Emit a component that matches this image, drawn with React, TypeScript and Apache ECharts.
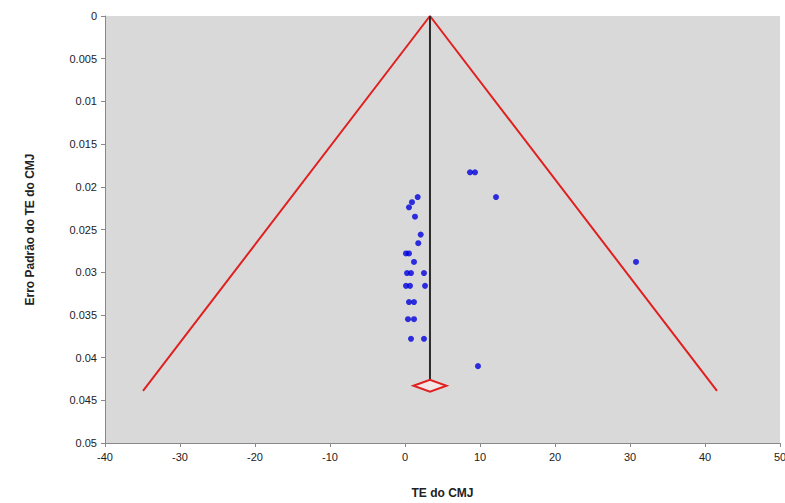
import React, { useEffect, useRef } from "react";
import * as echarts from "echarts";

// Study estimates (TE do CMJ) and their standard errors
const studyTE = [8.67, 9.33, 12.13, 30.8, 9.73, 1.69, 0.93, 0.53, 1.33, 2.09, 1.77, 0.13, 0.53, 1.2, 0.27, 0.8, 2.53, 0.13, 0.67, 2.67, 0.53, 1.2, 0.4, 1.2, 0.8, 2.53];
const studySE = [0.0183, 0.0183, 0.0212, 0.0288, 0.041, 0.0212, 0.0218, 0.0224, 0.0235, 0.0256, 0.0266, 0.0278, 0.0278, 0.0288, 0.0301, 0.0301, 0.0301, 0.0316, 0.0316, 0.0316, 0.0335, 0.0335, 0.0355, 0.0355, 0.0378, 0.0378];

// Funnel (pseudo confidence limits)
const funnelX = [-34.93, 3.33, 41.6];
const funnelY = [0.0439, 0, 0.0439];

// Pooled estimate line and diamond
const pooledTE = 3.33;
const pooledLineEnd = 0.0426;
const diamondSE = 0.0433;
const diamondHalfWidth = 2.2;
const diamondHalfHeight = 0.0007;

// Axes
const xMin = -40;
const xMax = 50;
const xStep = 10;
const yMin = 0;
const yMax = 0.05;
const yStep = 0.005;

export default function App() {
  const ref = useRef<HTMLDivElement>(null);
  useEffect(() => {
    if (!ref.current) return;
    const chart = echarts.init(ref.current, null, { renderer: "svg" });
    const font = "'Liberation Sans', Arial, sans-serif";
    const points = studyTE.map((x, i) => [x, studySE[i]]);
    const funnel = funnelX.map((x, i) => [x, funnelY[i]]);
    chart.setOption({
      animation: false,
      backgroundColor: "#ffffff",
      grid: {
        left: 105,
        right: 5,
        top: 16,
        bottom: 60,
        show: true,
        backgroundColor: "#d9d9d9",
        borderWidth: 0,
        outerBoundsMode: "none",
        containLabel: false,
      },
      xAxis: {
        type: "value",
        min: xMin,
        max: xMax,
        interval: xStep,
        name: "TE do CMJ",
        nameLocation: "middle",
        nameGap: 44,
        nameTextStyle: { fontFamily: font, fontSize: 12, fontWeight: "bold", color: "#222" },
        axisLine: { show: true, onZero: false, lineStyle: { color: "#888", width: 1 } },
        axisTick: { show: true, length: 4, lineStyle: { color: "#888" } },
        axisLabel: { fontFamily: font, fontSize: 11, color: "#222", margin: 8, showMaxLabel: true, showMinLabel: true },
        splitLine: { show: false },
      },
      yAxis: {
        type: "value",
        inverse: true,
        min: yMin,
        max: yMax,
        interval: yStep,
        name: "Erro Padrão do TE do CMJ",
        nameLocation: "middle",
        nameGap: 69,
        nameRotate: 90,
        nameTextStyle: { fontFamily: font, fontSize: 12, fontWeight: "bold", color: "#222" },
        axisLine: { show: true, onZero: false, lineStyle: { color: "#888", width: 1 } },
        axisTick: { show: true, length: 4, lineStyle: { color: "#888" } },
        axisLabel: { fontFamily: font, fontSize: 11, color: "#222", margin: 8 },
        splitLine: { show: false },
      },
      series: [
        {
          type: "line",
          data: funnel,
          symbol: "none",
          lineStyle: { color: "#e02020", width: 2 },
          z: 2,
        },
        {
          type: "line",
          data: [[pooledTE, 0], [pooledTE, pooledLineEnd]],
          symbol: "none",
          lineStyle: { color: "#2a2a2a", width: 2 },
          z: 2,
        },
        {
          type: "custom",
          data: [[pooledTE, diamondSE]],
          renderItem: (params: any, api: any) => {
            const x = api.value(0);
            const y = api.value(1);
            const pts = [
              api.coord([x - diamondHalfWidth, y]),
              api.coord([x, y - diamondHalfHeight]),
              api.coord([x + diamondHalfWidth, y]),
              api.coord([x, y + diamondHalfHeight]),
            ];
            return {
              type: "polygon",
              shape: { points: pts },
              style: { fill: "#f3e6e6", stroke: "#e02020", lineWidth: 2 },
            };
          },
          z: 3,
        },
        {
          type: "scatter",
          data: points,
          symbol: "circle",
          symbolSize: 6,
          itemStyle: { color: "#0000dd" },
          z: 4,
        },
      ],
    });
    return () => chart.dispose();
  }, []);
  return (
    <div
      ref={ref}
      style={{ position: "absolute", left: 0, top: 0, width: 785, height: 503 }}
    />
  );
}
